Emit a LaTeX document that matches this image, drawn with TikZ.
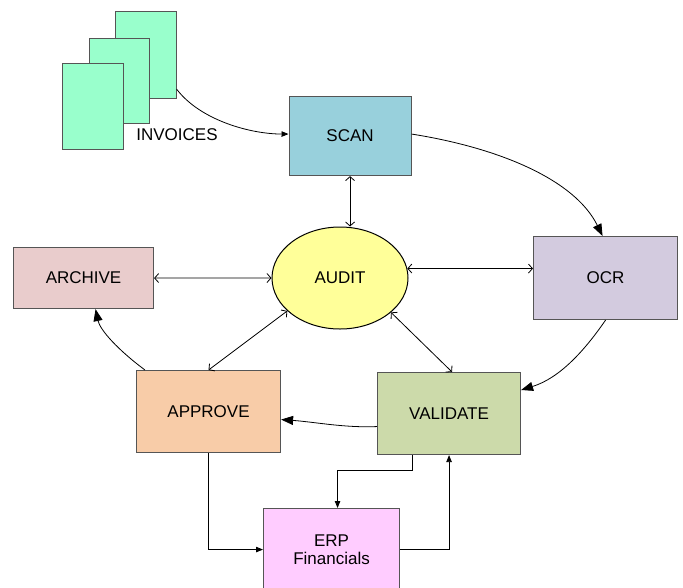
\documentclass[tikz,border=0pt]{standalone}
\usepackage{fontspec}
\setmainfont{Liberation Sans}
\usetikzlibrary{shapes.geometric,arrows.meta,calc}
\definecolor{pagegreen}{RGB}{153,255,204}
\definecolor{scanblue}{RGB}{152,208,220}
\definecolor{audity}{RGB}{255,255,153}
\definecolor{ocrlilac}{RGB}{211,203,223}
\definecolor{validgreen}{RGB}{204,218,170}
\definecolor{archpink}{RGB}{233,204,204}
\definecolor{apprpeach}{RGB}{248,204,168}
\definecolor{erppink}{RGB}{255,204,255}
\definecolor{edge}{RGB}{85,85,85}
\tikzset{
  box/.style={draw=edge, line width=1.1pt, anchor=north west, inner sep=0pt,
    align=center, font=\fontsize{17}{19.5}\selectfont},
  page/.style={draw=edge, line width=1.1pt, fill=pagegreen, anchor=north west},
  link/.style={draw=black, line width=0.8pt},
  both/.style={link, {Straight Barb[length=4pt,width=9pt]}-{Straight Barb[length=4pt,width=9pt]}},
  flow/.style={link, -{Triangle[length=12pt,width=9pt]}},
  feed/.style={link, -{Triangle[length=7pt,width=5.5pt]}},
}
\begin{document}
\begin{tikzpicture}[x=1pt,y=-1pt]
\useasboundingbox (0,0) rectangle (683,587);

% stacked invoice pages
\node[page, minimum width=61pt, minimum height=87pt] (inv3) at (114.5,11) {};
\node[page, minimum width=60pt, minimum height=85pt] (inv2) at (89,38) {};
\node[page, minimum width=61pt, minimum height=86pt] (inv1) at (62,63) {};
\node[font=\fontsize{17}{19.5}\selectfont] (invlabel) at (177,135) {INVOICES};

% process boxes
\node[box, fill=scanblue, minimum width=122pt, minimum height=79pt] (scan) at (288.5,96) {SCAN};
\node[box, fill=ocrlilac, minimum width=144pt, minimum height=83pt] (ocr) at (533,236) {OCR};
\node[box, fill=archpink, minimum width=140pt, minimum height=61pt] (archive) at (13,247) {ARCHIVE};
\node[box, fill=apprpeach, minimum width=144pt, minimum height=82pt] (approve) at (136,370) {APPROVE};
\node[box, fill=validgreen, minimum width=143pt, minimum height=82pt] (validate) at (377,372) {VALIDATE};
\node[box, fill=erppink, minimum width=136pt, minimum height=82pt] (erp) at (263,508) {ERP\\[-1pt]Financials};
\node[ellipse, draw=black, line width=1pt, fill=audity, minimum width=136pt, minimum height=102pt,
  inner sep=0pt, font=\fontsize{17}{19.5}\selectfont] (audit) at (340,278) {AUDIT};

% main flow
\draw[feed] ([yshift=10pt]inv3.south east) .. controls (200,120) and (250,134) .. ([yshift=2pt]scan.west);
\draw[flow] ([yshift=2pt]scan.east) .. controls (500,148) and (575,180) .. ([xshift=-3pt]ocr.north);
\draw[flow] (ocr.south) .. controls (585,350) and (560,378) .. ([yshift=-18pt]validate.north east);
\draw[flow] ([yshift=-13pt]validate.west) .. controls (345,428) and (315,422) .. ([yshift=-8pt]approve.east);
\draw[flow] ([xshift=9pt]approve.north west) .. controls (118,350) and (100,330) .. ([xshift=12pt]archive.south);

% audit links
\draw[both] (scan.south) -- (scan.south |- audit.north);
\draw[both] (audit.8) -- (audit.8 -| ocr.west);
\draw[both] (archive.east) -- (audit.west);
\draw[both] (audit.212) -- (approve.north);
\draw[both] (audit.326) -- ([xshift=3pt]validate.north);

% ERP exchange
\draw[feed] (approve.south) |- (erp.west);
\draw[feed] ([xshift=-37pt]validate.south) -- ++(0,15) -| ([xshift=6pt]erp.north);
\draw[feed] (erp.east) -| (validate.south);
\end{tikzpicture}
\end{document}
